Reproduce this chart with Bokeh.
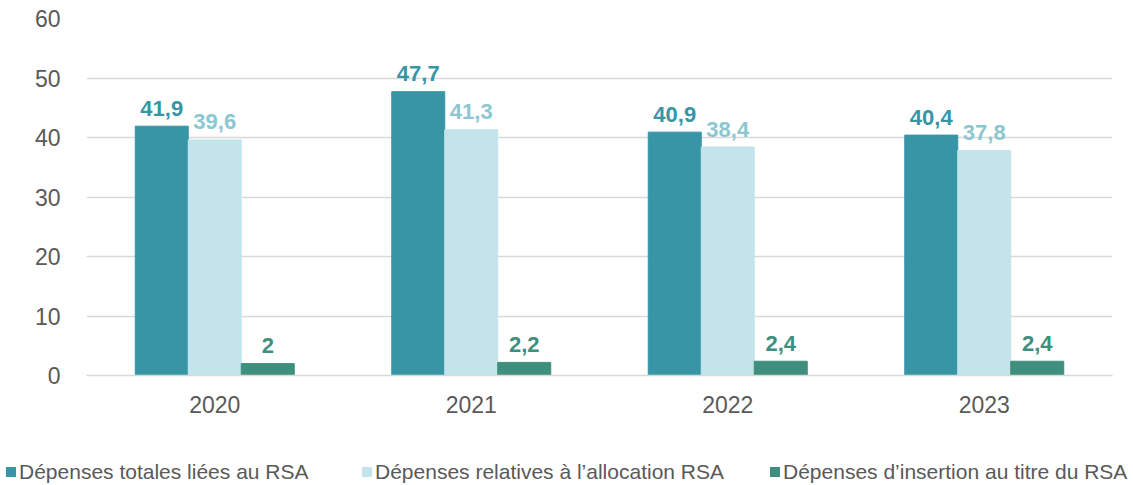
from bokeh.plotting import figure
from bokeh.layouts import column
from bokeh.models import ColumnDataSource, FactorRange, FixedTicker, Div
from bokeh.transform import dodge
from bokeh.embed import file_html
from bokeh.resources import INLINE
from bokeh.core.properties import value

years = ["2020", "2021", "2022", "2023"]
totales = [41.9, 47.7, 40.9, 40.4]
allocation = [39.6, 41.3, 38.4, 37.8]
insertion = [2.0, 2.2, 2.4, 2.4]
series_names = ["Dépenses totales liées au RSA",
                "Dépenses relatives à l\u2019allocation RSA",
                "Dépenses d\u2019insertion au titre du RSA"]
y_ticks = [0, 10, 20, 30, 40, 50, 60]

def fr(v):
    s = ("%.1f" % v).replace(".", ",")
    if s.endswith(",0"):
        s = s[:-2]
    return s

src = ColumnDataSource(dict(
    years=years, totales=totales, allocation=allocation, insertion=insertion,
    lt=[fr(v) for v in totales], la=[fr(v) for v in allocation], li=[fr(v) for v in insertion],
))

FONT = "Liberation Sans"
C1, C2, C3 = "#3795A6", "#C4E4EB", "#3E8F7D"
L2 = "#8CC7D1"
GRAY = "#595959"
colors = [C1, C2, C3]

p = figure(x_range=FactorRange(*years), y_range=(0, 60), width=1133, height=450,
           output_backend="svg", toolbar_location=None,
           min_border_left=86, min_border_right=21, min_border_top=18, min_border_bottom=75)
p.outline_line_color = None
p.background_fill_color = "white"
p.border_fill_color = "white"

W = 0.2066
p.vbar(x=dodge("years", -W, range=p.x_range), top="totales", width=W, source=src, color=C1)
p.vbar(x=dodge("years", 0, range=p.x_range), top="allocation", width=W, source=src, color=C2)
p.vbar(x=dodge("years", W, range=p.x_range), top="insertion", width=W, source=src, color=C3)

for off, col, txt, c in [(-W, "totales", "lt", C1), (0, "allocation", "la", L2), (W, "insertion", "li", C3)]:
    p.text(x=dodge("years", off, range=p.x_range), y=col, text=txt, source=src,
           text_font=value(FONT), text_font_style="bold", text_font_size="22px",
           text_color=c, text_align="center", text_baseline="alphabetic", y_offset=-18)

p.yaxis.ticker = FixedTicker(ticks=y_ticks)
p.yaxis.axis_line_color = None
p.yaxis.major_tick_line_color = None
p.yaxis.minor_tick_line_color = None
p.yaxis.major_label_standoff = 20
p.yaxis.major_label_text_font = FONT
p.yaxis.major_label_text_font_size = "23px"
p.yaxis.major_label_text_color = GRAY

p.xaxis.axis_line_color = "#D9D9D9"
p.xaxis.axis_line_width = 1.5
p.xaxis.major_tick_line_color = None
p.xaxis.minor_tick_line_color = None
p.xaxis.major_label_standoff = 14
p.xaxis.major_label_text_font = FONT
p.xaxis.major_label_text_font_size = "23px"
p.xaxis.major_label_text_color = GRAY

p.xgrid.grid_line_color = None
p.ygrid.grid_line_color = "#D9D9D9"
p.ygrid.grid_line_width = 1.5

# legend strip (HTML)
item_left = [6, 362, 770]
items_html = "".join(
    '<span style="position:absolute;left:%dpx;top:13px;height:18px;line-height:18px;'
    'display:inline-flex;align-items:center">'
    '<span style="display:inline-block;width:10px;height:10px;background:%s;margin-right:3px"></span>'
    '<span>%s</span></span>' % (x, c, n)
    for x, n, c in zip(item_left, series_names, colors)
)
legend_div = Div(
    text='<div style="position:relative;width:1133px;height:35px;white-space:nowrap;'
         'font-family:\'Liberation Sans\';font-size:21px;color:%s">%s</div>' % (GRAY, items_html),
    width=1133, height=35, margin=0)

layout = column(p, legend_div, spacing=0)
open("out.html", "w").write(file_html(layout, INLINE))
